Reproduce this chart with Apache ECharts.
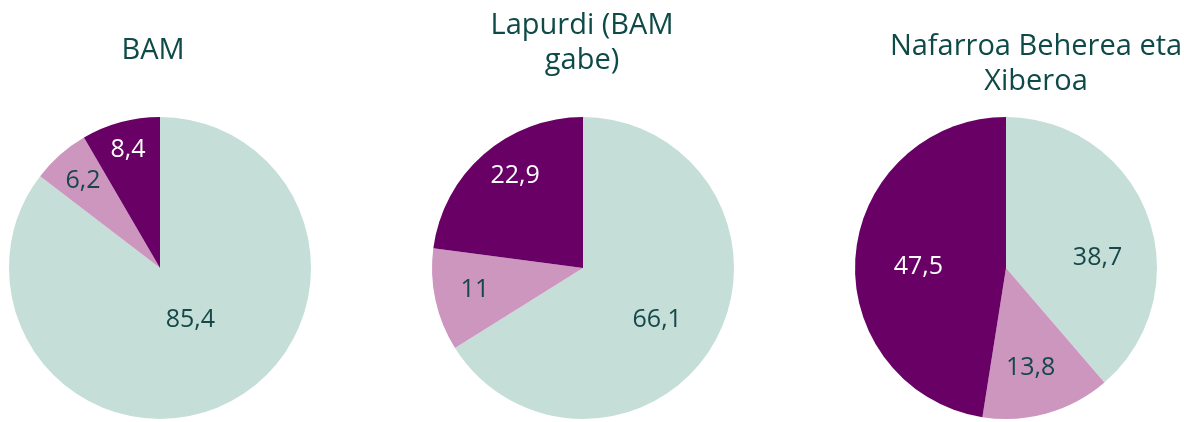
<!DOCTYPE html>
<html>
<head>
<meta charset="utf-8">
<script src="https://cdn.jsdelivr.net/npm/echarts@6/dist/echarts.min.js"></script>
<style>
  html, body { margin: 0; padding: 0; background: #fff; }
  #chart { width: 1184px; height: 422px; }
</style>
</head>
<body>
<div id="chart"></div>
<script>
// slice names (same order in every pie, clockwise from 12 o'clock)
const sliceNames = ['A', 'B', 'C']
const pieTitles = ['BAM', 'Lapurdi (BAM\ngabe)', 'Nafarroa Beherea eta\nXiberoa']
const bamValues = [85.4, 6.2, 8.4]
const lapurdiValues = [66.1, 11, 22.9]
const nafarroaValues = [38.7, 13.8, 47.5]

const colors = ['#c5dfd8', '#cd96bf', '#680066']
const labelColors = ['#16484a', '#16484a', '#ffffff']
const textColor = '#0e4a47'

// layout
const centersX = [160, 583, 1006]
const centerY = 268
const radius = 151
const titleX = [148, 577, 1031]
const titleTop = [28, 3, 24]
// label placement: distance from centre (fraction of radius) and turn from mid-angle (deg)
const labelRadius = [
  [0.40, 0.77, 0.81],
  [0.60, 0.73, 0.76],
  [0.61, 0.68, 0.58],
]
const labelTurn = [
  [-4, 0, 0],
  [6, 1, 5],
  [14, 2, -4],
]

const allValues = [bamValues, lapurdiValues, nafarroaValues]

const fmt = (v) => String(v).replace('.', ',')

const labelLayout = (params) => {
  const s = params.seriesIndex
  const i = params.dataIndex
  const vals = allValues[s]
  const total = vals.reduce((a, b) => a + b, 0)
  let before = 0
  for (let k = 0; k < i; k++) before += vals[k]
  const mid = ((before + vals[i] / 2) / total) * Math.PI * 2 + labelTurn[s][i] * Math.PI / 180
  const d = labelRadius[s][i] * radius
  return {
    x: centersX[s] + d * Math.sin(mid),
    y: centerY - d * Math.cos(mid),
    align: 'center',
    verticalAlign: 'middle',
  }
}

const series = allValues.map((vals, s) => ({
  type: 'pie',
  center: [centersX[s], centerY],
  radius: radius,
  startAngle: 90,
  clockwise: true,
  avoidLabelOverlap: false,
  silent: true,
  label: {
    show: true,
    position: 'inside',
    fontFamily: 'Open Sans',
    fontSize: 25,
    formatter: (p) => fmt(p.value),
  },
  labelLine: { show: false },
  labelLayout: labelLayout,
  data: vals.map((v, i) => ({
    name: sliceNames[i],
    value: v,
    itemStyle: { color: colors[i] },
    label: { color: labelColors[i] },
  })),
}))

const title = pieTitles.map((t, s) => ({
  text: t,
  left: titleX[s],
  top: titleTop[s],
  textAlign: 'center',
  textStyle: {
    fontFamily: 'Open Sans',
    fontWeight: 'normal',
    fontSize: 29,
    lineHeight: 35,
    color: textColor,
  },
}))

const chart = echarts.init(document.getElementById('chart'))
chart.setOption({
  animation: false,
  title,
  series,
})
</script>
</body>
</html>
